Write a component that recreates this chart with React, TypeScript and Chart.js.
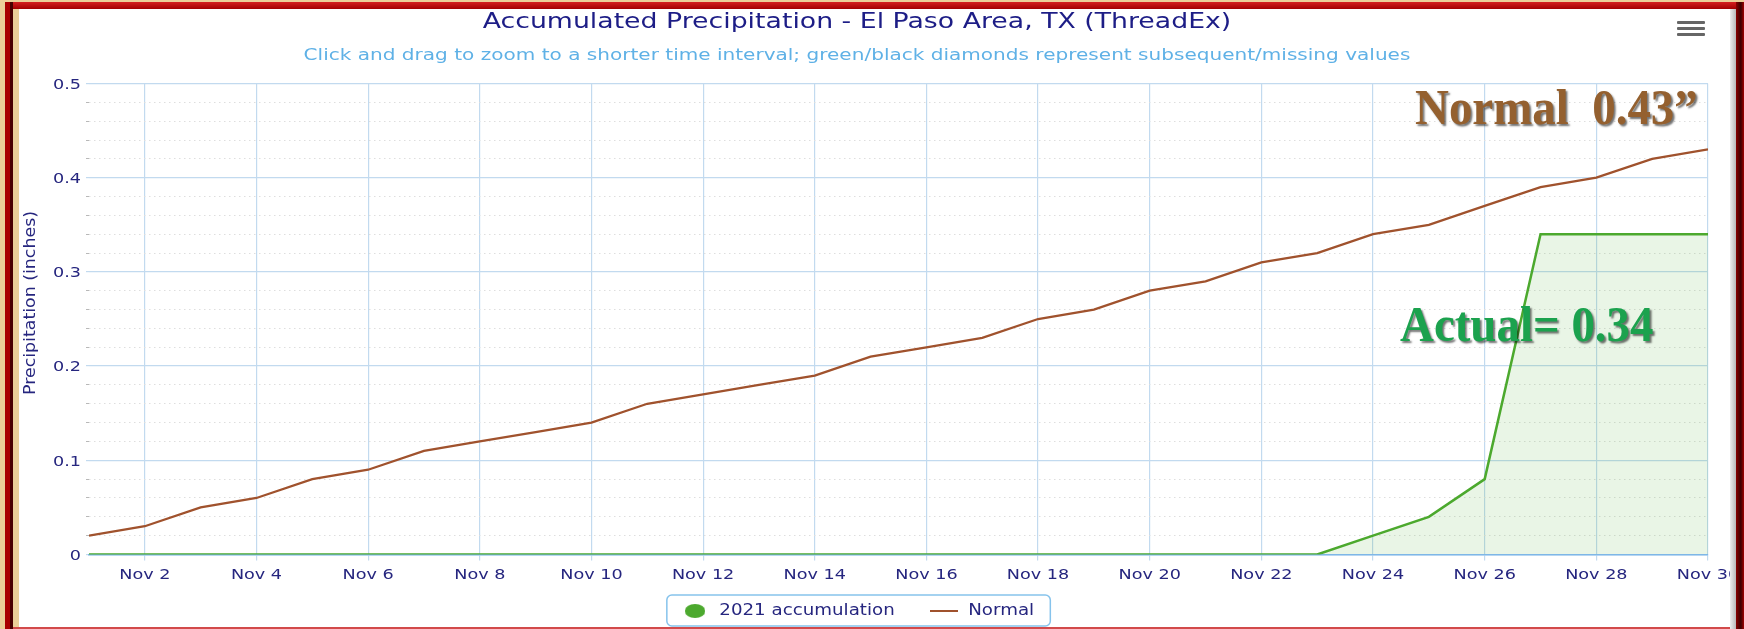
import React, { useEffect, useRef } from "react";
import { Chart, registerables } from "chart.js";

Chart.register(...registerables);

// ---- data ----
const days = [1, 2, 3, 4, 5, 6, 7, 8, 9, 10, 11, 12, 13, 14, 15, 16, 17, 18, 19, 20, 21, 22, 23, 24, 25, 26, 27, 28, 29, 30];
const normalInches = [0.02, 0.03, 0.05, 0.06, 0.08, 0.09, 0.11, 0.12, 0.13, 0.14, 0.16, 0.17, 0.18, 0.19, 0.21, 0.22, 0.23, 0.25, 0.26, 0.28, 0.29, 0.31, 0.32, 0.34, 0.35, 0.37, 0.39, 0.40, 0.42, 0.43];
const accumulation2021 = [0, 0, 0, 0, 0, 0, 0, 0, 0, 0, 0, 0, 0, 0, 0, 0, 0, 0, 0, 0, 0, 0, 0, 0.02, 0.04, 0.08, 0.34, 0.34, 0.34, 0.34];
const seriesNames = ["2021 accumulation", "Normal"];
const xTickDays = [2, 4, 6, 8, 10, 12, 14, 16, 18, 20, 22, 24, 26, 28, 30];
const xTickLabels = ["Nov 2", "Nov 4", "Nov 6", "Nov 8", "Nov 10", "Nov 12", "Nov 14", "Nov 16", "Nov 18", "Nov 20", "Nov 22", "Nov 24", "Nov 26", "Nov 28", "Nov 30"];
const yMajorTicks = [0, 0.1, 0.2, 0.3, 0.4, 0.5];
const yTickLabels = ["0", "0.1", "0.2", "0.3", "0.4", "0.5"];
const titleText = "Accumulated Precipitation - El Paso Area, TX (ThreadEx)";
const subtitleText = "Click and drag to zoom to a shorter time interval; green/black diamonds represent subsequent/missing values";
const yAxisTitle = "Precipitation (inches)";
const normalNote = "Normal  0.43\u201d";
const actualNote = "Actual= 0.34";

// ---- styles ----
const W = 1744;
const H = 629;
const GREEN = "#4ca92e";
const BROWN = "#a0522d";
const NAVY = "#26267f";
const GRID_BLUE = "#c2daef";
const MINOR_GRID = "#dedede";
const FONT = "'DejaVu Sans', sans-serif";
const STRETCH = 1.215; // the reference text is drawn wide

function isMajor(v: number) {
  return yMajorTicks.some((m) => Math.abs(m - v) < 1e-6);
}

export default function App() {
  const ref = useRef<HTMLCanvasElement | null>(null);

  useEffect(() => {
    const canvas = ref.current;
    if (!canvas) return;

    const circleImg = document.createElement("canvas");
    circleImg.width = 17;
    circleImg.height = 14;
    const cc = circleImg.getContext("2d")!;
    cc.fillStyle = GREEN;
    cc.beginPath();
    cc.ellipse(8.5, 7, 8.5, 7, 0, 0, Math.PI * 2);
    cc.fill();

    const lineImg = document.createElement("canvas");
    lineImg.width = 23;
    lineImg.height = 2;
    const lc = lineImg.getContext("2d")!;
    lc.fillStyle = BROWN;
    lc.fillRect(0, 0, 23, 2);

    // widen a whole box (title, subtitle, legend) around its centre
    const stretchBox = (ctx: any, obj: any) => {
      if (!obj || obj.__stretched) return;
      const orig = obj.draw;
      obj.draw = function (...args: any[]) {
        const cx = (this.left + this.right) / 2;
        ctx.save();
        ctx.translate(cx, 0);
        ctx.scale(STRETCH, 1);
        ctx.translate(-cx, 0);
        try {
          return orig.apply(this, args);
        } finally {
          ctx.restore();
        }
      };
      obj.__stretched = true;
    };
    // widen each tick label around its own anchor
    const stretchLabels = (ctx: any, obj: any) => {
      if (!obj || obj.__stretched) return;
      const orig = obj.drawLabels;
      obj.drawLabels = function (...args: any[]) {
        const proto = Object.getPrototypeOf(ctx);
        ctx.translate = function (x: number, y: number) {
          proto.translate.call(ctx, x, y);
          proto.scale.call(ctx, STRETCH, 1);
        };
        try {
          return orig.apply(this, args);
        } finally {
          delete ctx.translate;
        }
      };
      obj.__stretched = true;
    };

    const toScreen = (chart: any, x: number) => {
      const lg = chart.legend;
      const cx = (lg.left + lg.right) / 2;
      return cx + (x - cx) * STRETCH;
    };

    const extras = {
      id: "extras",
      beforeLayout(chart: any) {
        const ctx = chart.ctx;
        chart.boxes.forEach((b: any) => {
          if (b.position === "top" && !b.id) stretchBox(ctx, b);
        });
        stretchBox(ctx, chart.legend);
        stretchLabels(ctx, chart.scales.x);
        stretchLabels(ctx, chart.scales.y);
      },
      afterLayout(chart: any) {
        if (chart.legend) chart.legend.top -= 9;
      },
      afterDraw(chart: any) {
        const ctx = chart.ctx as CanvasRenderingContext2D;
        // legend border
        const boxes = chart.legend?.legendHitBoxes || [];
        if (boxes.length) {
          const left = toScreen(chart, Math.min(...boxes.map((b: any) => b.left)) - 10.7);
          const right = toScreen(chart, Math.max(...boxes.map((b: any) => b.left + b.width)) + 13.3);
          const top = boxes[0].top - 8.5;
          const bottom = boxes[0].top + boxes[0].height + 7.5;
          ctx.save();
          ctx.strokeStyle = "#86c3ec";
          ctx.lineWidth = 1.5;
          ctx.beginPath();
          (ctx as any).roundRect(left, top, right - left, bottom - top, 5);
          ctx.stroke();
          ctx.restore();
        }
        // y axis title
        ctx.save();
        ctx.translate(31, 303);
        ctx.rotate(-Math.PI / 2);
        ctx.font = "13px " + FONT;
        const w = ctx.measureText(yAxisTitle).width;
        ctx.scale(184 / w, STRETCH);
        ctx.fillStyle = NAVY;
        ctx.textAlign = "center";
        ctx.textBaseline = "middle";
        ctx.fillText(yAxisTitle, 0, 0);
        ctx.restore();
      },
    };

    const chart = new Chart(canvas, {
      type: "line",
      data: {
        datasets: [
          {
            label: seriesNames[0],
            data: days.map((d, i) => ({ x: d, y: accumulation2021[i] })),
            borderColor: GREEN,
            backgroundColor: "rgba(76,169,46,0.12)",
            borderWidth: 2.5,
            pointRadius: 0,
            fill: "origin",
            tension: 0,
          },
          {
            label: seriesNames[1],
            data: days.map((d, i) => ({ x: d, y: normalInches[i] })),
            borderColor: BROWN,
            backgroundColor: BROWN,
            borderWidth: 2.3,
            pointRadius: 0,
            fill: false,
            tension: 0,
          },
        ],
      },
      options: {
        responsive: false,
        animation: false,
        devicePixelRatio: 1,
        layout: { padding: { left: 6, right: 36, top: 0, bottom: 0 } },
        font: { family: FONT },
        plugins: {
          tooltip: { enabled: false },
          title: {
            display: true,
            text: titleText,
            color: "#1d1d86",
            font: { family: FONT, size: 22, weight: "normal" },
            padding: { top: 9, bottom: 10.3 },
          },
          subtitle: {
            display: true,
            text: subtitleText,
            color: "#5fb1e6",
            font: { family: FONT, size: 16.5, weight: "normal" },
            padding: { top: 0, bottom: 18 },
          },
          legend: {
            position: "bottom",
            maxHeight: 44.5,
            labels: {
              usePointStyle: true,
              pointStyleWidth: 25,
              padding: 28,
              color: NAVY,
              font: { family: FONT, size: 15 },
              generateLabels: (c: any) =>
                c.data.datasets.map((ds: any, i: number) => ({
                  text: ds.label,
                  pointStyle: i === 0 ? circleImg : lineImg,
                  fillStyle: "transparent",
                  strokeStyle: "transparent",
                  lineWidth: 0,
                  hidden: false,
                  datasetIndex: i,
                  fontColor: NAVY,
                })),
            },
          },
        },
        scales: {
          x: {
            type: "linear",
            min: days[0],
            max: days[days.length - 1],
            afterBuildTicks: (scale: any) => {
              scale.ticks = xTickDays.map((v) => ({ value: v }));
            },
            afterFit: (scale: any) => {
              scale.height = 30;
            },
            grid: {
              color: GRID_BLUE,
              lineWidth: 1.2,
              tickLength: 6,
              tickColor: GRID_BLUE,
            },
            border: { display: true, color: "#7fb8ea", width: 1.5 },
            ticks: {
              autoSkip: false,
              maxRotation: 0,
              padding: 6.5,
              color: NAVY,
              font: { family: FONT, size: 14.5 },
              callback: (v: any) => {
                const i = xTickDays.indexOf(Number(v));
                return i >= 0 ? xTickLabels[i] : "";
              },
            },
          },
          y: {
            type: "linear",
            min: 0,
            max: 0.5,
            afterFit: (scale: any) => {
              scale.width = 83;
            },
            grid: {
              drawTicks: true,
              tickLength: 3,
              tickColor: (ctx: any) => (isMajor(ctx.tick.value) ? GRID_BLUE : "#b8b8b8"),
              color: (ctx: any) => (isMajor(ctx.tick.value) ? GRID_BLUE : MINOR_GRID),
              lineWidth: (ctx: any) => (isMajor(ctx.tick.value) ? 1.2 : 1),
            },
            border: {
              display: false,
              dash: (ctx: any) => (ctx.tick && isMajor(ctx.tick.value) ? [] : [1.5, 3.5]),
            },
            ticks: {
              stepSize: 0.02,
              autoSkip: false,
              padding: 5,
              labelOffset: 1.5,
              color: NAVY,
              font: { family: FONT, size: 14.5 },
              callback: (v: any) => {
                const n = Number(v);
                const i = yMajorTicks.findIndex((m) => Math.abs(m - n) < 1e-6);
                return i >= 0 ? yTickLabels[i] : "";
              },
            },
          },
        },
      },
      plugins: [extras],
    } as any);

    return () => chart.destroy();
  }, []);

  const noteStyle = (color: string, left: number, top: number): React.CSSProperties => ({
    position: "absolute",
    left,
    top,
    fontFamily: "'Liberation Serif', 'Times New Roman', serif",
    fontWeight: "bold",
    fontSize: 51,
    lineHeight: "51px",
    color,
    whiteSpace: "pre",
    transform: "scaleX(0.92)",
    transformOrigin: "left top",
    textShadow: "2px 2px 2px rgba(0,0,0,0.55)",
    zIndex: 3,
  });

  return (
    <div style={{ position: "absolute", left: 0, top: 0, width: W, height: H, overflow: "hidden", background: "#ebcf98" }}>
      {/* white panel */}
      <div style={{ position: "absolute", left: 19, top: 9, width: 1711, height: 618, background: "#ffffff" }} />
      {/* top red band */}
      <div style={{ position: "absolute", left: 5, top: 2, width: 1739, height: 7, background: "linear-gradient(#d42020, #a30000)", zIndex: 2 }} />
      {/* left bands */}
      <div style={{ position: "absolute", left: 5, top: 2, width: 5, height: 627, background: "#a80000", zIndex: 2 }} />
      <div style={{ position: "absolute", left: 10, top: 2, width: 3, height: 627, background: "#4a0000", zIndex: 2 }} />
      {/* right bands */}
      <div style={{ position: "absolute", left: 1730, top: 9, width: 6, height: 620, background: "linear-gradient(90deg, #eeeeee, #b8b8b8)", zIndex: 2 }} />
      <div style={{ position: "absolute", left: 1736, top: 2, width: 8, height: 627, background: "linear-gradient(90deg, #8a0000, #3a0000 60%, #a00000)", zIndex: 2 }} />
      {/* bottom red line */}
      <div style={{ position: "absolute", left: 13, top: 627, width: 1717, height: 2, background: "#d24a4a", zIndex: 2 }} />

      <canvas ref={ref} width={W} height={H} style={{ position: "absolute", left: 0, top: 0, width: W, height: H, zIndex: 1 }} />

      {/* hamburger menu */}
      {[21, 27, 33].map((y) => (
        <div key={y} style={{ position: "absolute", left: 1677, top: y, width: 28, height: 3, background: "#666666", borderRadius: 1, zIndex: 3 }} />
      ))}

      <div style={noteStyle("#94602f", 1415, 82)}>{normalNote}</div>
      <div style={noteStyle("#1ba24e", 1400, 299)}>{actualNote}</div>
    </div>
  );
}
